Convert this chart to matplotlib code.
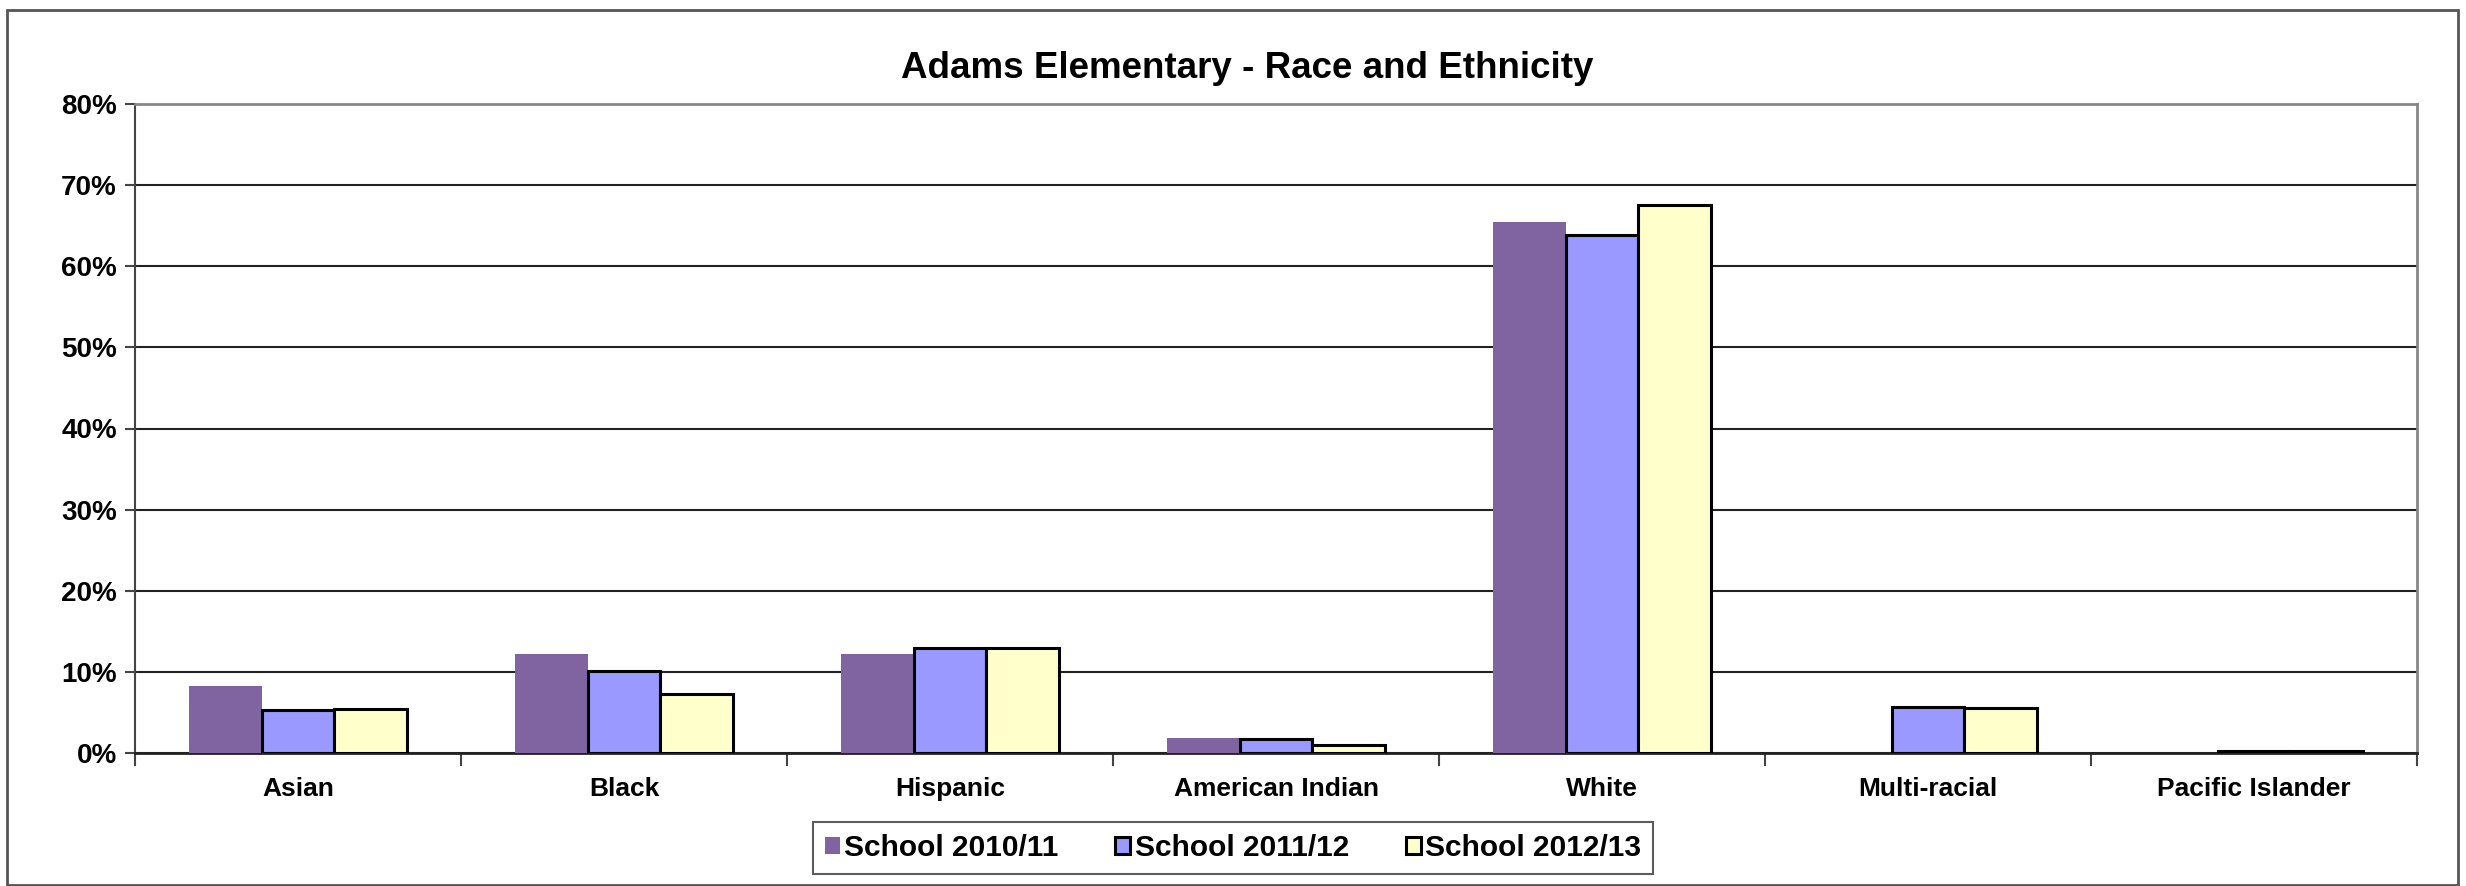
import matplotlib
matplotlib.use("Agg")
import matplotlib.pyplot as plt
import numpy as np
from matplotlib.patches import Rectangle
from matplotlib.ticker import FuncFormatter

categories = ["Asian", "Black", "Hispanic", "American Indian", "White",
              "Multi-racial", "Pacific Islander"]
series_names = ["School 2010/11", "School 2011/12", "School 2012/13"]
school_2010_11 = [8.2, 12.2, 12.2, 1.8, 65.4, 0.0, 0.0]
school_2011_12 = [5.3, 10.1, 13.0, 1.7, 63.9, 5.7, 0.25]
school_2012_13 = [5.4, 7.3, 12.95, 1.0, 67.5, 5.6, 0.25]
yticks = [0, 10, 20, 30, 40, 50, 60, 70, 80]

colors = ["#8064A2", "#9999FF", "#FFFFCC"]
edgecolors = ["none", "black", "black"]

plt.rcParams['font.family'] = ['Liberation Sans', 'DejaVu Sans']

fig = plt.figure(figsize=(24.66, 8.86), dpi=100)
ax = fig.add_axes([135/2466, 1-753/886, (2417-135)/2466, (753-104)/886])

x = np.arange(len(categories))
w = 1/4.5
data = [school_2010_11, school_2011_12, school_2012_13]
for i, (vals, name) in enumerate(zip(data, series_names)):
    ax.bar(x + (i-1)*w, vals, width=w, color=colors[i],
           edgecolor=edgecolors[i], linewidth=2.2 if edgecolors[i] != "none" else 0,
           label=name, zorder=3)

ax.set_xlim(-0.5, len(categories)-0.5)
ax.set_ylim(0, 80)
ax.set_yticks(yticks)
ax.yaxis.set_major_formatter(FuncFormatter(lambda v, p: f"{int(v)}%"))
ax.grid(axis='y', color='#222222', linewidth=1.5, zorder=1)
ax.set_axisbelow(True)

ax.set_xticks(x)
ax.set_xticklabels(categories, fontsize=19, fontweight='bold')
ax.tick_params(axis='x', length=0, pad=17)
ax.set_xticks(np.arange(len(categories)+1) - 0.5, minor=True)
ax.tick_params(axis='x', which='minor', length=9, width=1.5, color='#444444', direction='out')
ax.tick_params(axis='y', length=7, width=1.5, color='#444444', direction='out',
               labelsize=20, pad=6)
for lab in ax.get_yticklabels():
    lab.set_fontweight('bold')

for s in ['top', 'right']:
    ax.spines[s].set_color('#888888')
    ax.spines[s].set_linewidth(2)
ax.spines['left'].set_color('#444444')
ax.spines['left'].set_linewidth(1.5)
ax.spines['bottom'].set_color('#222222')
ax.spines['bottom'].set_linewidth(2)

fig.text((901+1593)/2/2466, 1-68/886, "Adams Elementary - Race and Ethnicity",
         ha='center', va='center', fontsize=26.5, fontweight='bold')

leg = fig.legend(loc='center', bbox_to_anchor=((797+1669)/2/2466, 1-848/886),
                 ncol=3, frameon=True, fancybox=False, edgecolor='#333333',
                 prop={'size': 21.5, 'weight': 'bold'}, handlelength=0.5,
                 handleheight=0.5, handletextpad=0.15, columnspacing=1.9,
                 borderpad=0.4, borderaxespad=0)
leg.get_frame().set_linewidth(1.5)

fig.patches.append(Rectangle((7/2466, 0.001), (2458-7)/2466, 1-10/886-0.001,
                             transform=fig.transFigure, fill=False,
                             edgecolor='#555555', linewidth=2))

fig.savefig("out.png", dpi=100)
